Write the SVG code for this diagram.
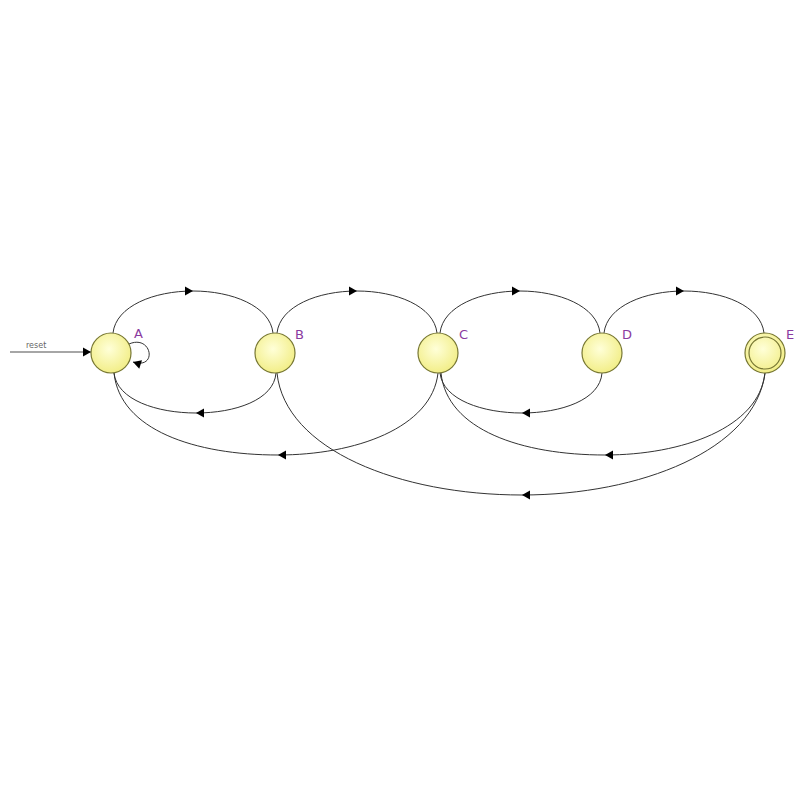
<svg xmlns="http://www.w3.org/2000/svg" width="804" height="804" viewBox="0 0 804 804">
<defs>
<radialGradient id="g" cx="0.45" cy="0.4" r="0.6">
<stop offset="0" stop-color="#ffffd8"/>
<stop offset="1" stop-color="#f2ee88"/>
</radialGradient>
<marker id="ah" markerWidth="10" markerHeight="10" refX="3" refY="0" viewBox="-6 -5 10 10" orient="auto" markerUnits="userSpaceOnUse">
<path d="M-5,-4.5 L3,0 L-5,4.5 Z" fill="#000"/>
</marker>
<marker id="ae" markerWidth="10" markerHeight="10" refX="0" refY="0" viewBox="-9 -5 10 10" orient="auto" markerUnits="userSpaceOnUse">
<path d="M-8,-4.5 L0,0 L-8,4.5 Z" fill="#000"/>
</marker>
</defs>
<style>
.e{fill:none;stroke:#333;stroke-width:1;marker-mid:url(#ah)}
.n{fill:url(#g);stroke:#777733;stroke-width:1.2}
.l{font-family:"DejaVu Sans","Liberation Sans",sans-serif;font-size:13px;fill:#8a3aa0}
</style>
<rect width="804" height="804" fill="#fff"/>
<g id="connectors">
<line x1="10" y1="352" x2="91" y2="352" stroke="#888" stroke-width="1.3" marker-end="url(#ae)"/>
<text x="26" y="348" font-family="DejaVu Sans, Liberation Sans, sans-serif" font-size="8" fill="#666">reset</text>
<path class="e" d="M113,333 C116,306 154,291 193,291 C232,291 270,306 273,333"/>
<path class="e" d="M277,333 C280,306 318,291 357,291 C396,291 434,306 437,333"/>
<path class="e" d="M440,333 C443,306 481,291 520,291 C559,291 597,306 600,333"/>
<path class="e" d="M604,333 C607,306 645,291 684,291 C723,291 761,306 764,333"/>
<path class="e" d="M276,373 C274,400 235,413 196,413 C157,413 117,400 114,373"/>
<path class="e" d="M602,373 C600,400 561,413 522,413 C483,413 443,400 440,373"/>
<path class="e" d="M438,373 C432,428 355,455 278,455 C195,455 120,430 114,373"/>
<path class="e" d="M765,373 C759,428 682,455 605,455 C522,455 447,430 441,373"/>
<path class="e" d="M765,373 C755,450 640,495 522,495 C400,495 285,450 277,373"/>
<path d="M129,344 C152,334 158,370 133,362" fill="none" stroke="#333" stroke-width="1" marker-end="url(#ae)"/>
</g>
<g id="A"><circle class="n" cx="111" cy="353" r="20"/><text class="l" x="134" y="338">A</text></g>
<g id="B"><circle class="n" cx="275" cy="353" r="20"/><text class="l" x="295" y="339">B</text></g>
<g id="C"><circle class="n" cx="438" cy="353" r="20"/><text class="l" x="459" y="339">C</text></g>
<g id="D"><circle class="n" cx="602" cy="353" r="20"/><text class="l" x="622" y="339">D</text></g>
<g id="E"><circle class="n" cx="765" cy="353" r="20"/><circle cx="765" cy="353" r="16" fill="none" stroke="#777733" stroke-width="1.2"/><text class="l" x="786" y="339">E</text></g>
</svg>
